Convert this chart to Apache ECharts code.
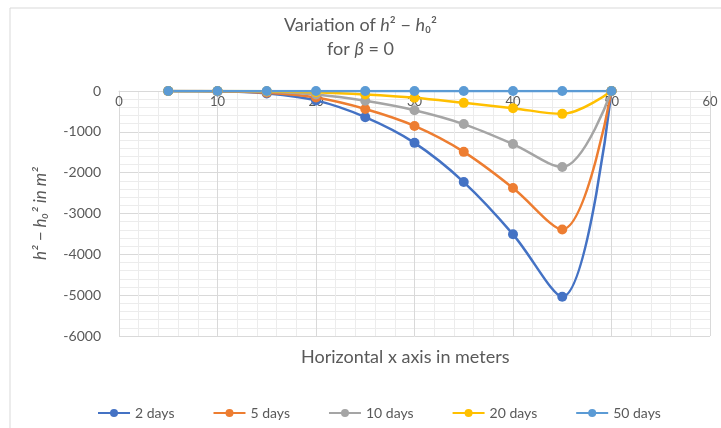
<!DOCTYPE html>
<html>
<head>
<meta charset="utf-8">
<script src="https://cdn.jsdelivr.net/npm/echarts@6/dist/echarts.min.js"></script>
<style>
  html, body { margin: 0; padding: 0; background: #fff; }
  #chart { width: 721px; height: 428px; }
</style>
</head>
<body>
<div id="chart"></div>
<script>
// distance along x (m)
const xPositions = [5, 10, 15, 20, 25, 30, 35, 40, 45, 50];

// h^2 - h0^2 (m^2)
const days2 = [0, -10, -60, -230, -640, -1270, -2230, -3510, -5040, 0];
const days5 = [0, -5, -45, -160, -440, -855, -1490, -2375, -3390, 0];
const days10 = [0, -2, -20, -85, -240, -470, -810, -1300, -1860, 0];
const days20 = [0, -1, -8, -30, -85, -165, -290, -420, -560, 0];
const days50 = [0, 0, 0, 0, 0, 0, 0, 0, 0, 0];

const seriesNames = ['2 days', '5 days', '10 days', '20 days', '50 days'];
const seriesColors = ['#4472C4', '#ED7D31', '#A5A5A5', '#FFC000', '#5B9BD5'];
const seriesValues = [days2, days5, days10, days20, days50];

const font = 'Lato, "Liberation Sans", sans-serif';
const textColor = '#595959';

const chart = echarts.init(document.getElementById('chart'));

const series = seriesNames.map((name, i) => ({
  name: name,
  type: 'line',
  smooth: 0.35,
  symbol: 'circle',
  symbolSize: 10,
  data: xPositions.map((x, j) => [x, seriesValues[i][j]]),
  lineStyle: { color: seriesColors[i], width: 2.5 },
  itemStyle: { color: seriesColors[i] },
}));

chart.setOption({
  animation: false,
  textStyle: { fontFamily: font },
  graphic: [{
    type: 'rect',
    shape: { x: 10, y: 8, width: 730, height: 440 },
    style: { fill: 'none', stroke: '#d9d9d9', lineWidth: 1 },
    silent: true,
  }],
  title: [{
    text: 'Variation of {i|h}² − {i|h}₀²\nfor {i|β} = 0',
    left: 'center',
    top: 8,
    textStyle: {
      fontFamily: font,
      fontSize: 18,
      fontWeight: 'normal',
      color: textColor,
      lineHeight: 24,
      rich: {
        i: { fontStyle: 'italic', fontSize: 18, color: textColor, fontFamily: font },
      },
    },
  }, {
    // x axis title sits below the plot, axis line itself is at y = 0 (top)
    text: 'Horizontal x axis in meters',
    left: 296,
    top: 343,
    textStyle: { fontFamily: font, fontSize: 18, fontWeight: 'normal', color: textColor },
  }],
  legend: {
    data: seriesNames,
    left: 92,
    top: 401,
    itemWidth: 32,
    itemHeight: 10,
    itemGap: 38,
    textStyle: { color: textColor, fontSize: 14, fontFamily: font },
  },
  grid: { left: 119, right: 11, top: 91, bottom: 92, outerBoundsMode: 'none', containLabel: false },
  xAxis: {
    type: 'value',
    position: 'top',
    min: 0,
    max: 60,
    interval: 10,
    axisLine: { show: true, lineStyle: { color: '#d9d9d9' } },
    axisTick: { show: false },
    axisLabel: { inside: true, color: textColor, fontSize: 13, margin: 4, formatter: v => String(v) },
    splitLine: { show: true, lineStyle: { color: '#d9d9d9' } },
    minorTick: { show: false, splitNumber: 5 },
    minorSplitLine: { show: true, lineStyle: { color: '#ececec' } },
  },
  yAxis: {
    type: 'value',
    min: -6000,
    max: 0,
    interval: 1000,
    name: 'h² − h₀² in m²',
    nameLocation: 'middle',
    nameGap: 70,
    nameTextStyle: { color: textColor, fontSize: 17, fontStyle: 'italic', fontFamily: font },
    axisLine: { show: true, lineStyle: { color: '#d9d9d9' } },
    axisTick: { show: false },
    axisLabel: { color: textColor, fontSize: 14, margin: 18, formatter: v => String(v) },
    splitLine: { show: true, lineStyle: { color: '#d9d9d9' } },
    minorTick: { show: false, splitNumber: 5 },
    minorSplitLine: { show: true, lineStyle: { color: '#ececec' } },
  },
  series: series,
});
</script>
</body>
</html>
